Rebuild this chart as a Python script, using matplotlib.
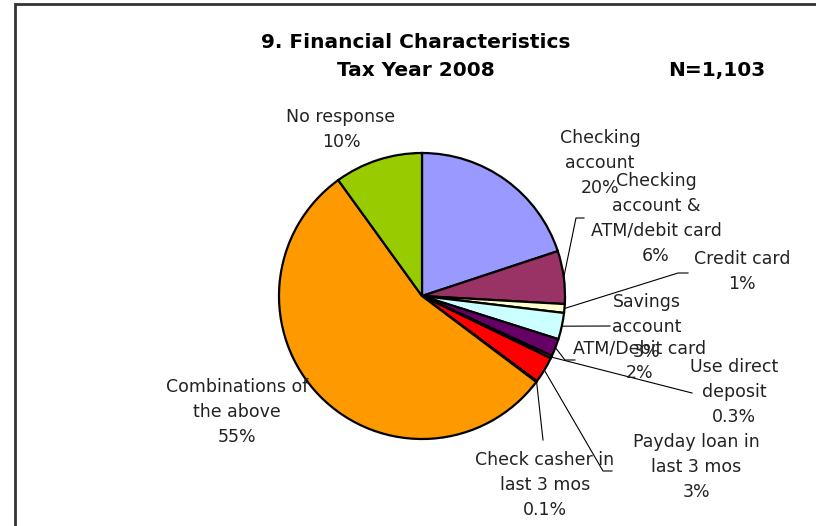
import matplotlib.pyplot as plt
import numpy as np
from matplotlib.patches import Rectangle

# Financial characteristics, tax year 2008 (percent of filers)
categories = ["Checking\naccount", "Checking\naccount &\nATM/debit card", "Credit card",
              "Savings\naccount", "ATM/Debit card", "Use direct\ndeposit",
              "Payday loan in\nlast 3 mos", "Check casher in\nlast 3 mos",
              "Combinations of\nthe above", "No response"]
pct_labels = ["20%", "6%", "1%", "3%", "2%", "0.3%", "3%", "0.1%", "55%", "10%"]
values = [20, 6, 1, 3, 2, 0.3, 3, 0.1, 55, 10]
colors = ["#9999FF", "#993366", "#FFFFCC", "#CCFFFF", "#660066", "#FF8080",
          "#FF0000", "#0066CC", "#FF9900", "#99CC00"]

W, H = 816, 526
cx, cy, R = 422, 296, 143


def px(x, y):
    # pixel position -> data coords (pie radius = 1)
    return (x - cx) / R, (cy - y) / R


fig = plt.figure(figsize=(W / 100, H / 100), dpi=100)
ax = fig.add_axes([0, 0, 1, 1])

ax.pie(values, colors=colors, startangle=90, counterclock=False,
       wedgeprops=dict(edgecolor="black", linewidth=1.6))

ax.set_xlim(-cx / R, (W - cx) / R)
ax.set_ylim(-(H - cy) / R, cy / R)
ax.set_aspect("equal")
ax.axis("off")

# label centers (pixels) and leader-line elbows (None = no leader)
label_pos = [(600, 163), (656, 218), (742, 271), (647, 327), (640, 361),
             (734, 392), (696, 467), (545, 485), (237, 412), (341, 129)]
leaders = [None,
           [(576, 218), (584, 218)],
           [(678, 273), (688, 273)],
           [(610, 326)],
           [(565, 360), (575, 360)],
           [(692, 393)],
           [(603, 471), (612, 471)],
           [(543, 440)],
           None, None]

total = sum(values)
start = 90.0
for i, v in enumerate(values):
    span = 360.0 * v / total
    mid = np.radians(start - span / 2)
    start -= span
    tx, ty = px(*label_pos[i])
    ax.text(tx, ty, categories[i] + "\n" + pct_labels[i], ha="center", va="center",
            fontsize=12.5, family="DejaVu Sans", color="#222222", linespacing=1.5)
    if leaders[i]:
        xs = [1.0 * np.cos(mid)] + [px(*p)[0] for p in leaders[i]]
        ys = [1.0 * np.sin(mid)] + [px(*p)[1] for p in leaders[i]]
        ax.plot(xs, ys, color="black", lw=0.8)

ax.text(*px(416, 42), "9. Financial Characteristics", ha="center", va="center",
        fontsize=14.5, fontweight="bold", family="DejaVu Sans")
ax.text(*px(416, 70), "Tax Year 2008", ha="center", va="center",
        fontsize=14.5, fontweight="bold", family="DejaVu Sans")
ax.text(*px(717, 70), "N=1,103", ha="center", va="center",
        fontsize=14.5, fontweight="bold", family="DejaVu Sans")

# chart frame (right and bottom edges fall outside the image)
fig.patches.append(Rectangle((15 / W, -0.1), 1.1, (H - 4) / H + 0.1,
                             transform=fig.transFigure, fill=False,
                             edgecolor="#333333", lw=2))

fig.savefig("out.png", dpi=100)
